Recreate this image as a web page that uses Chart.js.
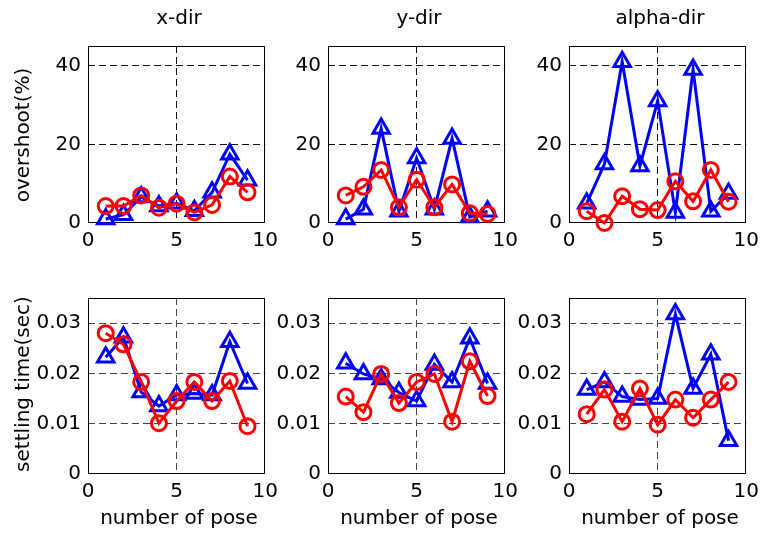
<!DOCTYPE html>
<html>
<head>
<meta charset="utf-8">
<script src="https://cdn.jsdelivr.net/npm/chart.js@4/dist/chart.umd.min.js"></script>
<style>
  html, body { margin: 0; padding: 0; background: #fff; overflow: hidden; }
  #wrap { position: relative; width: 766px; height: 534px; background: #fff; font-family: "DejaVu Sans", sans-serif; color: #000; }
  canvas { position: absolute; }
  .lbl { position: absolute; white-space: nowrap; font-size: 20px; line-height: 1; transform: translate(-50%, -50%); }
  .rot { transform: translate(-50%, -50%) rotate(-90deg); }
</style>
</head>
<body>
<div id="wrap"></div>
<script>
// ---- data ----
const poses = [1, 2, 3, 4, 5, 6, 7, 8, 9];
const columnTitles = ["x-dir", "y-dir", "alpha-dir"];
const rowLabels = ["overshoot(%)", "settling time(sec)"];
const xLabel = "number of pose";
const xTicks = [0, 5, 10];
const overshootTicks = [0, 20, 40];
const settlingTicks = [0, 0.01, 0.02, 0.03];

const overshootXBlue = [1, 2.1, 6.6, 4.3, 5, 3.1, 7.8, 17.5, 10.9];
const overshootXRed  = [4.3, 4.3, 7, 3.9, 4.9, 2.7, 4.6, 11.8, 7.8];
const overshootYBlue = [1, 3.5, 24, 3, 16.5, 3.5, 21.5, 1.5, 3];
const overshootYRed  = [7, 9.2, 13.5, 4, 11, 4, 9.8, 2.5, 2.3];
const overshootABlue = [5, 15, 41, 14.5, 31, 2.7, 39, 3, 7.5];
const overshootARed  = [3, 0, 6.8, 3.5, 3.3, 10.6, 5.5, 13.5, 5.4];

const settlingXBlue = [0.0232, 0.0272, 0.0163, 0.0135, 0.0157, 0.0160, 0.0157, 0.0263, 0.0180];
const settlingXRed  = [0.0280, 0.0258, 0.0183, 0.0101, 0.0145, 0.0183, 0.0145, 0.0185, 0.0095];
const settlingYBlue = [0.0220, 0.0199, 0.0189, 0.0162, 0.0145, 0.0218, 0.0183, 0.0270, 0.0180];
const settlingYRed  = [0.0154, 0.0123, 0.0199, 0.0141, 0.0183, 0.0199, 0.0104, 0.0224, 0.0155];
const settlingABlue = [0.0168, 0.0183, 0.0154, 0.0148, 0.0150, 0.0318, 0.0170, 0.0238, 0.0066];
const settlingARed  = [0.0119, 0.0168, 0.0104, 0.0170, 0.0098, 0.0148, 0.0112, 0.0148, 0.0183];

// ---- layout ----
const colLeft = [88, 328, 569];
const plotW = 182;
const rowTop = [41, 293];
const plotH = [182, 181];
const yAxisW = 55, padTop = 14, padRight = 14, xAxisH = 32;

const panels = [
  { row: 0, col: 0, blue: overshootXBlue, red: overshootXRed },
  { row: 0, col: 1, blue: overshootYBlue, red: overshootYRed },
  { row: 0, col: 2, blue: overshootABlue, red: overshootARed },
  { row: 1, col: 0, blue: settlingXBlue, red: settlingXRed },
  { row: 1, col: 1, blue: settlingYBlue, red: settlingYRed },
  { row: 1, col: 2, blue: settlingABlue, red: settlingARed },
];

const wrap = document.getElementById('wrap');
const FONT = "'DejaVu Sans', sans-serif";

const boxPlugin = {
  id: 'box',
  beforeDatasetsDraw(chart) {
    const ca = chart.chartArea, ctx = chart.ctx;
    ctx.save();
    ctx.strokeStyle = '#000';
    ctx.lineWidth = 1;
    ctx.setLineDash([]);
    ctx.strokeRect(Math.round(ca.left) + 0.5, Math.round(ca.top) + 0.5,
                   Math.round(ca.width) - 1, Math.round(ca.height) - 1);
    ctx.restore();
  }
};

function pts(vals) { return poses.map((x, i) => ({ x: x, y: vals[i] })); }

panels.forEach(p => {
  const h = plotH[p.row];
  const cv = document.createElement('canvas');
  const cw = yAxisW + plotW + padRight;
  const ch = padTop + h + xAxisH;
  cv.width = cw; cv.height = ch;
  cv.style.width = cw + 'px'; cv.style.height = ch + 'px';
  cv.style.left = (colLeft[p.col] - yAxisW) + 'px';
  cv.style.top = (rowTop[p.row] - padTop) + 'px';
  wrap.appendChild(cv);

  const isTop = p.row === 0;
  const yTicks = isTop ? overshootTicks : settlingTicks;
  const yMax = isTop ? 45 : 0.035;
  const gridCol = isTop ? '#111' : '#444';

  new Chart(cv.getContext('2d'), {
    type: 'line',
    data: {
      datasets: [
        {
          data: pts(p.red), borderColor: '#ff0000', borderWidth: 3,
          pointStyle: 'circle', pointRadius: 7.5, pointBorderWidth: 3,
          pointBorderColor: '#ff0000', pointBackgroundColor: 'rgba(0,0,0,0)',
          fill: false, tension: 0, clip: false, order: 1
        },
        {
          data: pts(p.blue), borderColor: '#0000ff', borderWidth: 3,
          pointStyle: 'triangle', pointRadius: 9.5, pointBorderWidth: 3,
          pointBorderColor: '#0000ff', pointBackgroundColor: 'rgba(0,0,0,0)',
          fill: false, tension: 0, clip: false, order: 2
        }
      ]
    },
    options: {
      responsive: false,
      animation: false,
      devicePixelRatio: 1,
      events: [],
      layout: { padding: { left: 0, top: padTop, right: padRight, bottom: 0 } },
      plugins: { legend: { display: false }, tooltip: { enabled: false }, title: { display: false } },
      scales: {
        x: {
          type: 'linear', min: 0, max: 10,
          afterFit(s) { s.height = xAxisH; },
          afterBuildTicks(s) { s.ticks = xTicks.map(v => ({ value: v })); },
          ticks: { font: { family: FONT, size: 20 }, color: '#000', padding: 6, maxRotation: 0 },
          grid: {
            color: c => (c.tick && c.tick.value === 5) ? gridCol : 'rgba(0,0,0,0)',
            lineWidth: 1, drawTicks: false, tickLength: 0
          },
          border: { display: false, dash: [7, 4] }
        },
        y: {
          type: 'linear', min: 0, max: yMax,
          afterFit(s) { s.width = yAxisW; },
          afterBuildTicks(s) { s.ticks = yTicks.map(v => ({ value: v })); },
          ticks: {
            font: { family: FONT, size: 20 }, color: '#000', padding: 7,
            callback: v => (v === 0 ? '0' : (isTop ? String(v) : v.toFixed(2)))
          },
          grid: {
            color: c => (c.tick && c.tick.value !== 0) ? gridCol : 'rgba(0,0,0,0)',
            lineWidth: 1, drawTicks: false, tickLength: 0
          },
          border: { display: false, dash: [7, 4] }
        }
      }
    },
    plugins: [boxPlugin]
  });
});

function addLabel(text, cx, cy, rotate) {
  const d = document.createElement('div');
  d.className = 'lbl' + (rotate ? ' rot' : '');
  d.textContent = text;
  d.style.left = cx + 'px';
  d.style.top = cy + 'px';
  wrap.appendChild(d);
}
columnTitles.forEach((t, i) => addLabel(t, colLeft[i] + plotW / 2, 17, false));
addLabel(rowLabels[0], 22, 135, true);
addLabel(rowLabels[1], 22, 384, true);
colLeft.forEach(l => addLabel(xLabel, l + plotW / 2, 517, false));
</script>
</body>
</html>
